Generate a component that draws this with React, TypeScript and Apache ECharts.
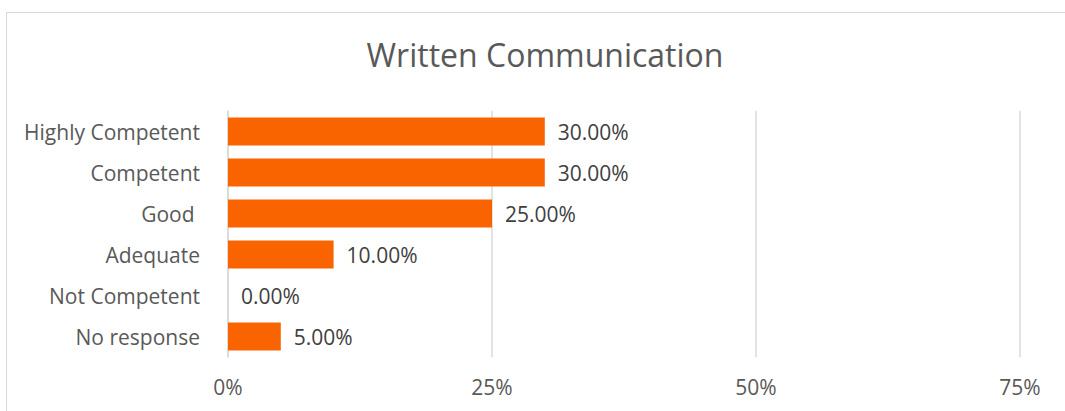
import React, { useEffect, useRef } from "react";
import * as echarts from "echarts";

const categories = ["Highly Competent", "Competent", "Good ", "Adequate", "Not Competent", "No response"];
const values = [30, 30, 25, 10, 0, 5];
const xTicks = [0, 25, 50, 75];
const title = "Written Communication";

export default function App() {
  const ref = useRef<HTMLDivElement>(null);
  useEffect(() => {
    if (!ref.current) return;
    const chart = echarts.init(ref.current, undefined, { renderer: "svg" });
    const font = "'Open Sans', 'Noto Sans', sans-serif";
    chart.setOption({
      animation: false,
      title: {
        text: title,
        left: 540,
        textAlign: "center",
        top: 33,
        textStyle: { fontFamily: font, fontSize: 32, fontWeight: "normal", color: "#595959" },
      },
      grid: { left: 228, right: 45, top: 111, bottom: 54, containLabel: false },
      xAxis: {
        type: "value",
        min: 0,
        max: 75,
        interval: 25,
        axisLine: { show: false },
        axisTick: { show: false },
        splitLine: { show: true, lineStyle: { color: "#d9d9d9", width: 1.5 } },
        axisLabel: {
          formatter: (v: number) => (xTicks.includes(v) ? v + "%" : ""),
          fontFamily: font,
          fontSize: 21,
          color: "#595959",
          margin: 19,
        },
      },
      yAxis: {
        type: "category",
        inverse: true,
        data: categories,
        axisLine: { show: true, lineStyle: { color: "#d9d9d9", width: 1.5 } },
        axisTick: { show: false },
        axisLabel: { fontFamily: font, fontSize: 21, color: "#595959", margin: 28 },
      },
      series: [
        {
          type: "bar",
          data: values,
          barWidth: 28,
          itemStyle: { color: "#f96400" },
          label: {
            show: true,
            position: "right",
            distance: 13,
            formatter: (p: any) => p.value.toFixed(2) + "%",
            fontFamily: font,
            fontSize: 21,
            color: "#404040",
          },
        },
      ],
    });
    return () => chart.dispose();
  }, []);
  return (
    <div style={{ position: "fixed", left: 0, top: 0, width: 1065, height: 411, background: "#fff", overflow: "hidden" }}>
      <div
        style={{
          position: "absolute",
          left: 6,
          top: 12,
          width: 1100,
          height: 450,
          border: "1px solid #d9d9d9",
          boxSizing: "border-box",
        }}
      />
      <div ref={ref} style={{ position: "absolute", left: 0, top: 0, width: 1065, height: 411 }} />
    </div>
  );
}
